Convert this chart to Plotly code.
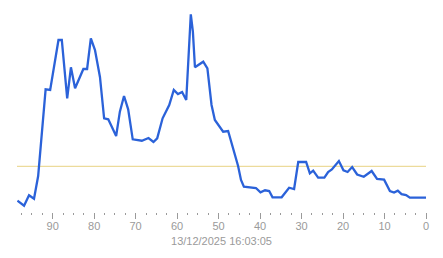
import plotly.graph_objects as go

# x positions (time units, axis runs 98.6 -> 0) and values
x_vals = [98.5, 96.9, 95.7, 94.5, 93.5, 92.6, 91.7, 90.6, 88.6, 87.8,
          86.5, 85.6, 84.6, 82.6, 81.7, 80.8, 79.8, 78.6, 77.6, 76.6,
          74.7, 73.8, 72.8, 71.8, 70.7, 68.5, 66.9, 65.7, 64.8, 63.5,
          61.9, 60.8, 59.8, 58.8, 57.8, 56.7, 56.2, 55.7, 53.7, 52.7,
          51.7, 50.9, 48.9, 47.7, 46.3, 45.3, 44.6, 43.9, 41.0, 39.9,
          38.8, 37.8, 37.0, 34.8, 33.0, 31.8, 30.8, 28.9, 28.0, 27.2,
          26.0, 24.5, 23.6, 22.7, 21.0, 19.9, 18.9, 17.8, 16.6, 15.0,
          13.1, 11.8, 10.1, 8.7, 7.7, 6.8, 5.9, 4.8, 3.9, 0.0]
y_vals = [11.3, 6.3, 16.7, 13.3, 36, 84, 122.7, 122, 172, 172,
          113.7, 144.7, 123.7, 143, 143, 173.7, 162, 135, 93.7, 92.7,
          76, 100.3, 116, 102.7, 72.7, 71.3, 74, 70, 73.7, 93.7,
          107, 122, 118, 120, 112, 197.7, 180.3, 144.7, 150.3, 143.7,
          107, 92, 80.3, 81, 60, 46, 32, 25.3, 24, 19.7,
          21.7, 21, 14.7, 14.7, 24.3, 23, 50, 50, 38.7, 41.3,
          34.3, 34.3, 40, 42.5, 51, 41.7, 40, 45, 37.5, 35.2,
          41, 33, 32.3, 21, 19.5, 21.3, 17.8, 17, 14.3, 14.3]
threshold = 45.7
tick_values = [90, 80, 70, 60, 50, 40, 30, 20, 10, 0]
tick_labels = ["90", "80", "70", "60", "50", "40", "30", "20", "10", "0"]
title_text = "13/12/2025 16:03:05"

fig = go.Figure()
fig.add_trace(go.Scatter(x=x_vals, y=y_vals, mode="lines",
                         line=dict(color="#2b62d9", width=2.3),
                         hoverinfo="skip", showlegend=False))
fig.add_shape(type="line", xref="paper", x0=0, x1=1, yref="y",
              y0=threshold, y1=threshold,
              line=dict(color="#e8d282", width=1), layer="below")

fig.update_layout(
    width=443, height=258,
    margin=dict(l=17, r=17, t=10, b=46),
    paper_bgcolor="white", plot_bgcolor="white",
    font=dict(family="Liberation Sans, Arial, sans-serif", size=11, color="#9a9a9a"),
    showlegend=False,
)
fig.update_xaxes(
    range=[98.6, 0], showgrid=False, zeroline=False, showline=False,
    tickmode="array", tickvals=tick_values, ticktext=tick_labels,
    ticks="outside", ticklen=6, tickwidth=1, tickcolor="#9a9a9a",
    tickfont=dict(size=11, color="#9a9a9a"), ticklabelstandoff=-2,
    minor=dict(dtick=2.5, tick0=0, ticks="outside", ticklen=2,
               tickcolor="#9a9a9a", showgrid=False),
    title=dict(text=title_text, font=dict(size=11, color="#9a9a9a"), standoff=6),
)
fig.update_yaxes(range=[0, 202], showgrid=False, zeroline=False,
                 showline=False, showticklabels=False, ticks="")

fig.write_html("out.html")
